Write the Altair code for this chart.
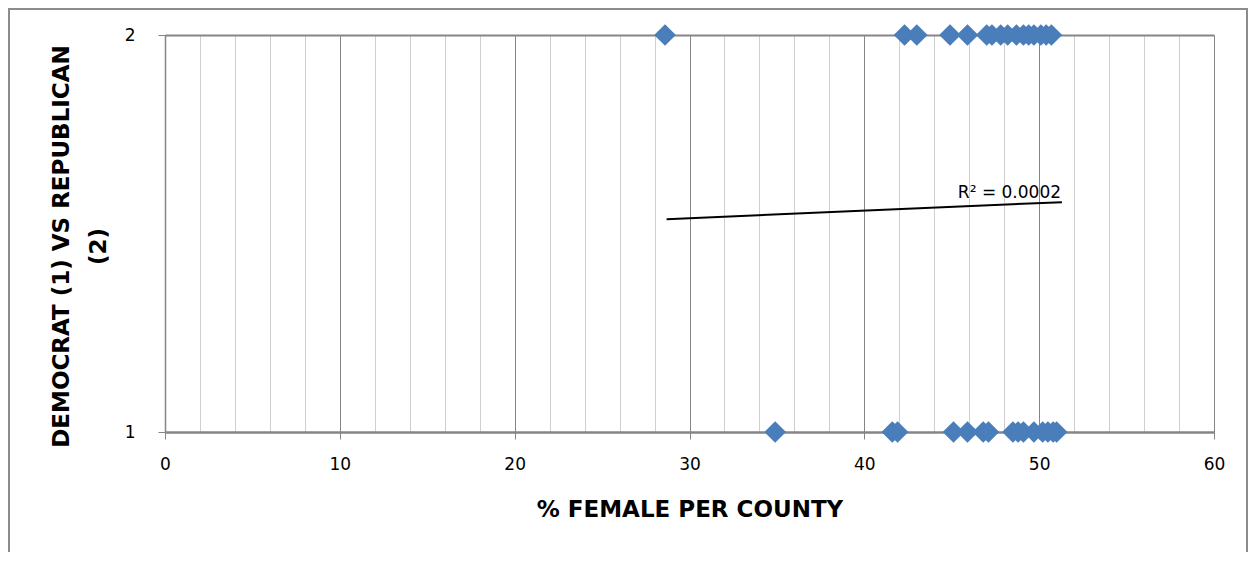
import altair as alt
import pandas as pd

# % female per county, Republican counties (coded 2)
rep_x = [28.6, 42.3, 43.0, 44.9, 45.9, 47.0, 47.3, 47.8, 48.2, 48.7,
         49.1, 49.4, 49.7, 50.1, 50.4, 50.7]
# % female per county, Democrat counties (coded 1)
dem_x = [34.9, 41.6, 41.9, 45.1, 45.9, 46.8, 47.1, 48.5, 48.8, 49.1,
         49.7, 50.2, 50.5, 50.8, 51.0]

# linear trendline endpoints (as drawn) and its label
trend_x = [28.69, 51.3]
trend_y = [1.536, 1.579]
r2_text = ["R\u00b2 = 0.0002"]
r2_x = [51.25]
r2_y = [1.589]

x_ticks = list(range(0, 62, 2))
y_ticks = [1, 2]

FONT = "DejaVu Sans, sans-serif"
BLUE = "#4a7ebb"
MAJOR = "#858585"
MINOR = "#cfcfcf"

points = pd.DataFrame({
    "female": rep_x + dem_x,
    "party": [2] * len(rep_x) + [1] * len(dem_x),
})
trend = pd.DataFrame({"female": trend_x, "party": trend_y})
label = pd.DataFrame({"female": r2_x, "party": r2_y, "txt": r2_text})

xscale = alt.Scale(domain=[0, 60], nice=False, zero=False)
yscale = alt.Scale(domain=[1, 2], nice=False, zero=False)

xaxis = alt.Axis(
    values=x_ticks,
    tickCount=len(x_ticks),
    grid=True,
    gridColor={"condition": {"test": "datum.value % 10 === 0", "value": MAJOR}, "value": MINOR},
    gridWidth=1,
    tickColor={"condition": {"test": "datum.value % 10 === 0", "value": MAJOR}, "value": "transparent"},
    tickSize=7,
    domainColor=MAJOR,
    domainWidth=2,
    format="d",
    labelExpr="datum.value % 10 === 0 ? datum.label : ''",
    labelOverlap=False,
    labelFlush=False,
    labelFont=FONT,
    labelFontSize=17,
    labelColor="#000000",
    labelPadding=17,
    title="% FEMALE PER COUNTY",
    titleFont=FONT,
    titleFontSize=23,
    titleFontWeight="bold",
    titleColor="#000000",
    titlePadding=26,
)

yaxis = alt.Axis(
    values=y_ticks,
    tickCount=2,
    format="d",
    grid=True,
    gridColor=MAJOR,
    gridWidth=2,
    tickColor=MAJOR,
    tickSize=7,
    domainColor=MAJOR,
    domainWidth=1.5,
    labelFont=FONT,
    labelFontSize=17,
    labelColor="#000000",
    labelPadding=23,
    title=["DEMOCRAT (1)  VS  REPUBLICAN", "(2)"],
    titleFont=FONT,
    titleFontSize=23,
    titleFontWeight="bold",
    titleColor="#000000",
    titleLineHeight=37,
    titlePadding=14,
    titleY=211,
)

pts = alt.Chart(points).mark_point(
    shape="diamond", filled=True, size=470, color=BLUE, opacity=1
).encode(
    x=alt.X("female:Q", scale=xscale, axis=xaxis),
    y=alt.Y("party:Q", scale=yscale, axis=yaxis),
)

line = alt.Chart(trend).mark_line(color="#000000", strokeWidth=2).encode(
    x=alt.X("female:Q", scale=xscale),
    y=alt.Y("party:Q", scale=yscale),
)

txt = alt.Chart(label).mark_text(
    align="right", baseline="alphabetic", font=FONT, fontSize=17, color="#000000"
).encode(
    x=alt.X("female:Q", scale=xscale),
    y=alt.Y("party:Q", scale=yscale),
    text="txt:N",
)

one = alt.Data(values=[{"k": 0}])
border_left = alt.Chart(one).mark_rule(color="#8c8c8c", strokeWidth=2).encode(
    x=alt.value(-156), y=alt.value(-27), y2=alt.value(520)
)
border_top = alt.Chart(one).mark_rule(color="#8c8c8c", strokeWidth=2).encode(
    x=alt.value(-157), x2=alt.value(1083), y=alt.value(-26)
)
border_right = alt.Chart(one).mark_rule(color="#8c8c8c", strokeWidth=2).encode(
    x=alt.value(1082), y=alt.value(-27), y2=alt.value(520)
)

chart = alt.layer(
    border_left, border_top, border_right, pts, line, txt
).properties(
    width=1049,
    height=397,
    padding={"left": 157, "top": 27, "right": 35, "bottom": 120},
    autosize=alt.AutoSizeParams(type="none"),
    background="#ffffff",
).configure_view(stroke=None)

chart.save("out.html", embed_options={"renderer": "svg", "actions": False})
